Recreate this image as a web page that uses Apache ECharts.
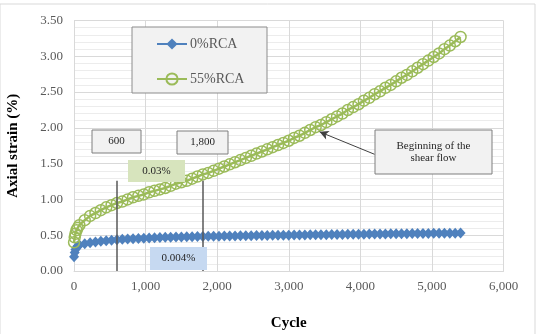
<!DOCTYPE html>
<html>
<head>
<meta charset="utf-8">
<script src="https://cdn.jsdelivr.net/npm/echarts@6/dist/echarts.min.js"></script>
<style>html,body{margin:0;padding:0;background:#fff;}#c{width:538px;height:334px;}</style>
</head>
<body>
<div id="c"></div>
<script>
const cycles = [1, 10, 20, 35, 50, 75, 150, 225, 300, 375, 450, 525, 600, 675, 750, 825, 900, 975, 1050, 1125, 1200, 1275, 1350, 1425, 1500, 1575, 1650, 1725, 1800, 1875, 1950, 2025, 2100, 2175, 2250, 2325, 2400, 2475, 2550, 2625, 2700, 2775, 2850, 2925, 3000, 3075, 3150, 3225, 3300, 3375, 3450, 3525, 3600, 3675, 3750, 3825, 3900, 3975, 4050, 4125, 4200, 4275, 4350, 4425, 4500, 4575, 4650, 4725, 4800, 4875, 4950, 5025, 5100, 5175, 5250, 5325, 5400];
const rca0 = [0.20, 0.26, 0.30, 0.33, 0.35, 0.365, 0.38, 0.395, 0.405, 0.415, 0.423, 0.43, 0.437, 0.442, 0.447, 0.451, 0.455, 0.459, 0.462, 0.465, 0.467, 0.47, 0.472, 0.474, 0.476, 0.478, 0.479, 0.481, 0.482, 0.484, 0.485, 0.486, 0.488, 0.489, 0.49, 0.491, 0.492, 0.494, 0.495, 0.496, 0.497, 0.498, 0.499, 0.50, 0.501, 0.502, 0.503, 0.504, 0.505, 0.506, 0.507, 0.508, 0.509, 0.51, 0.511, 0.512, 0.513, 0.514, 0.515, 0.516, 0.517, 0.518, 0.518, 0.519, 0.52, 0.521, 0.522, 0.523, 0.524, 0.524, 0.525, 0.526, 0.527, 0.528, 0.528, 0.529, 0.53];
const rca55 = [0.40, 0.47, 0.52, 0.57, 0.60, 0.64, 0.71, 0.77, 0.81, 0.85, 0.89, 0.92, 0.95, 0.97, 1.00, 1.03, 1.05, 1.07, 1.10, 1.12, 1.14, 1.16, 1.19, 1.22, 1.24, 1.26, 1.29, 1.32, 1.35, 1.37, 1.40, 1.43, 1.46, 1.49, 1.52, 1.55, 1.58, 1.61, 1.64, 1.67, 1.70, 1.73, 1.76, 1.79, 1.82, 1.86, 1.89, 1.93, 1.97, 2.01, 2.04, 2.08, 2.12, 2.16, 2.20, 2.25, 2.29, 2.33, 2.38, 2.42, 2.47, 2.51, 2.56, 2.60, 2.65, 2.70, 2.74, 2.79, 2.84, 2.89, 2.94, 2.99, 3.04, 3.10, 3.15, 3.21, 3.27];
const seriesNames = ['0%RCA', '55%RCA'];
const markerCycles = [600, 1800];
const markerTop = 1.26;
const arrowFrom = [4200, 1.63];
const arrowTo = [3430, 1.945];

const FONT = '"Liberation Serif", "Times New Roman", serif';
const chart = echarts.init(document.getElementById('c'), null, {renderer: 'canvas'});

function zip(xs, ys) { return xs.map((x, i) => [x, ys[i]]); }

function box(x, y, w, h, fill, stroke, lines) {
  const els = [{
    type: 'rect', shape: {x: x, y: y, width: w, height: h},
    style: {fill: fill, stroke: stroke || null, lineWidth: stroke ? 1 : 0}, z: 20
  }];
  const lh = 12;
  const y0 = y + h / 2 - (lines.length - 1) * lh / 2;
  lines.forEach((t, i) => {
    els.push({type: 'text', z: 21, style: {x: x + w / 2, y: y0 + i * lh, text: t, fill: '#262626', font: '11px ' + FONT, textAlign: 'center', textVerticalAlign: 'middle'}});
  });
  return els;
}

const option = {
  animation: false,
  grid: {left: 74, top: 20.5, right: 34.5, bottom: 63, containLabel: false, outerBoundsMode: 'none'},
  legend: {
    orient: 'vertical', left: 156, top: 37, padding: 0, itemWidth: 30, itemHeight: 14, itemGap: 21, z: 30,
    textStyle: {fontFamily: FONT, fontSize: 14, color: '#595959', padding: [0, 0, 0, -2]},
    data: seriesNames
  },
  xAxis: {
    type: 'value', min: 0, max: 6000, interval: 1000,
    name: 'Cycle', nameLocation: 'middle', nameGap: 45,
    nameTextStyle: {fontFamily: FONT, fontSize: 15, fontWeight: 'bold', color: '#000'},
    axisLine: {show: true, lineStyle: {color: '#d9d9d9'}},
    axisTick: {show: false},
    axisLabel: {fontFamily: FONT, fontSize: 13, color: '#595959', margin: 9,
      formatter: v => v.toLocaleString('en-US')},
    splitLine: {show: true, lineStyle: {color: '#d9d9d9'}}
  },
  yAxis: {
    type: 'value', min: 0, max: 3.5, interval: 0.5,
    name: 'Axial strain (%)', nameLocation: 'middle', nameGap: 53,
    nameTextStyle: {fontFamily: FONT, fontSize: 15, fontWeight: 'bold', color: '#000'},
    axisLine: {show: true, lineStyle: {color: '#d9d9d9'}},
    axisTick: {show: false},
    axisLabel: {fontFamily: FONT, fontSize: 13, color: '#595959', margin: 11, formatter: v => v.toFixed(2)},
    splitLine: {show: true, lineStyle: {color: '#d9d9d9'}},
    minorTick: {show: false, splitNumber: 5},
    minorSplitLine: {show: true, lineStyle: {color: '#ececec'}}
  },
  series: [
    {
      name: seriesNames[0], type: 'line', data: zip(cycles, rca0),
      symbol: 'diamond', symbolSize: [10, 11], showAllSymbol: true,
      lineStyle: {color: '#4f81bd', width: 2.5},
      itemStyle: {color: '#4f81bd'}, z: 3,
      markLine: {
        silent: true, symbol: ['none', 'none'], label: {show: false},
        lineStyle: {color: '#595959', width: 1.5, type: 'solid'},
        data: markerCycles.map(c => [{coord: [c, 0]}, {coord: [c, markerTop]}])
      }
    },
    {
      name: seriesNames[1], type: 'line', data: zip(cycles, rca55),
      symbol: 'circle', symbolSize: 11, showAllSymbol: true,
      lineStyle: {color: '#9bbb59', width: 2.5},
      itemStyle: {color: 'rgba(255,255,255,0)', borderColor: '#9bbb59', borderWidth: 1.5}, z: 4,
      markLine: {
        silent: true, symbol: ['none', 'arrow'], symbolSize: [7, 9], label: {show: false},
        lineStyle: {color: '#404040', width: 1, type: 'solid'},
        data: [[{coord: arrowFrom}, {coord: arrowTo}]]
      }
    }
  ],
  graphic: [
    {type: 'rect', shape: {x: 0, y: 4, width: 535, height: 340}, style: {fill: null, stroke: '#d9d9d9', lineWidth: 1}, z: 1},
    {type: 'rect', shape: {x: 132, y: 27, width: 135, height: 66}, style: {fill: '#f2f2f2', stroke: '#8c8c8c', lineWidth: 1}, z: 20},
    ...box(92, 130, 49, 23, '#f2f2f2', '#7f7f7f', ['600']),
    ...box(177, 131, 51, 23, '#f2f2f2', '#7f7f7f', ['1,800']),
    ...box(128, 160, 57, 22, '#d7e4bd', null, ['0.03%']),
    ...box(150, 247, 57, 23, '#c6d9f1', null, ['0.004%']),
    ...box(375, 130, 117, 44, '#f2f2f2', '#7f7f7f', ['Beginning of the', 'shear flow'])
  ]
};
chart.setOption(option);
</script>
</body>
</html>
